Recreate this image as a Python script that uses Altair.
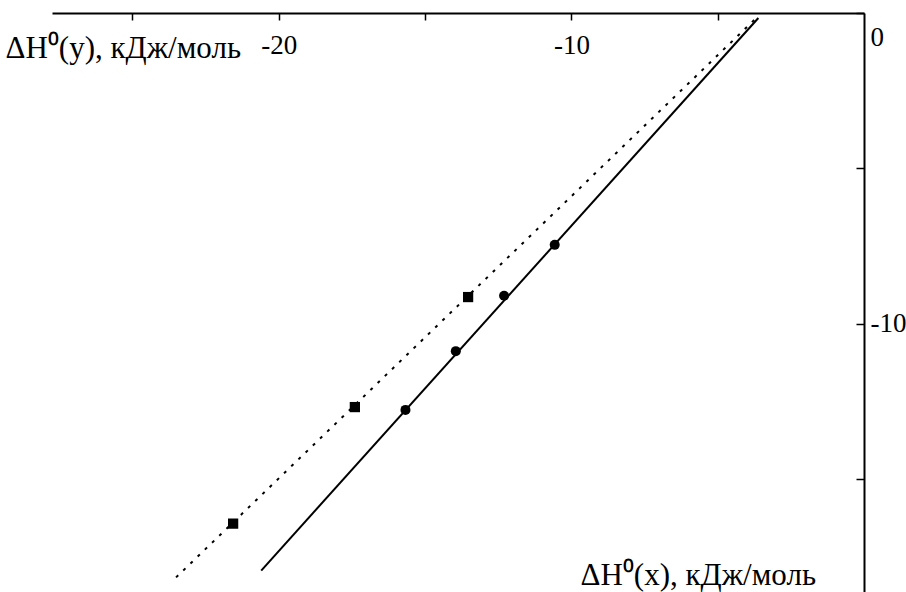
import altair as alt
import pandas as pd

# measured points (x = ΔH0(x), y = ΔH0(y), kJ/mol)
circle_x = [-10.57, -12.30, -13.95, -15.67]
circle_y = [-7.46, -9.10, -10.88, -12.77]
square_x = [-13.53, -17.40, -21.56]
square_y = [-9.14, -12.68, -16.43]

# straight lines, end points
solid_x = [-20.60, -3.61]
solid_y = [-17.94, -0.16]
dotted_x = [-23.51, -3.68]
dotted_y = [-18.16, -0.16]

x_ticks = [-25, -20, -15, -10, -5]
y_ticks = [0, -5, -10, -15]

X_DOMAIN = [-27.75, 0]
Y_DOMAIN = [-18.63, 0]

W, H = 812, 579
FONT = "Liberation Serif, Times New Roman, serif"

circles = pd.DataFrame({"x": circle_x, "y": circle_y})
squares = pd.DataFrame({"x": square_x, "y": square_y})
solid = pd.DataFrame({"x": solid_x, "y": solid_y})
dotted = pd.DataFrame({"x": dotted_x, "y": dotted_y})

x_axis = alt.Axis(
    orient="bottom", offset=-H, values=x_ticks,
    labelExpr="datum.value % 10 == 0 ? datum.value + '' : ''",
    grid=False, domainColor="black", domainWidth=2,
    tickColor="black", tickWidth=1.5, tickSize=7,
    labelFont=FONT, labelFontSize=27, labelColor="black", labelPadding=12,
    title="ΔH⁰(x), кДж/моль", titleFont=FONT, titleFontSize=31,
    titleFontWeight="normal", titleColor="black",
    titleAnchor="start", titleAlign="left", titleBaseline="middle",
    titleX=528, titleY=562, titleAngle=0,
)
y_axis = alt.Axis(
    orient="left", offset=-W, values=y_ticks,
    labelExpr="datum.value % 10 == 0 ? datum.value + '' : ''",
    grid=False, domainColor="black", domainWidth=2,
    tickColor="black", tickWidth=1.5, tickSize=8,
    labelFont=FONT, labelFontSize=27, labelColor="black",
    labelAlign="left", labelPadding=-14,
    labelFlush=True, labelFlushOffset=-11,
    title="ΔH⁰(y), кДж/моль", titleFont=FONT, titleFontSize=31,
    titleFontWeight="normal", titleColor="black",
    titleAnchor="start", titleAlign="left", titleBaseline="middle",
    titleX=-859, titleY=35, titleAngle=0,
)

xenc = alt.X("x:Q", scale=alt.Scale(domain=X_DOMAIN, nice=False, zero=False), axis=x_axis)
yenc = alt.Y("y:Q", scale=alt.Scale(domain=Y_DOMAIN, nice=False, zero=False), axis=y_axis)

solid_line = alt.Chart(solid).mark_line(color="black", strokeWidth=2, clip=True).encode(x=xenc, y=yenc)
dotted_line = alt.Chart(dotted).mark_line(color="black", strokeWidth=2, strokeDash=[3, 7], clip=True).encode(x=xenc, y=yenc)
circle_pts = alt.Chart(circles).mark_circle(color="black", size=100, opacity=1).encode(x=xenc, y=yenc)
square_pts = alt.Chart(squares).mark_point(shape="square", filled=True, color="black", size=105, opacity=1).encode(x=xenc, y=yenc)

chart = alt.layer(solid_line, dotted_line, circle_pts, square_pts).properties(
    width=W, height=H,
    padding={"left": 52, "top": 13, "right": 42, "bottom": 0},
    autosize=alt.AutoSizeParams(type="none"),
    background="white",
).configure_view(stroke=None)

chart.save("out.html", embed_options={"renderer": "svg", "actions": False})
